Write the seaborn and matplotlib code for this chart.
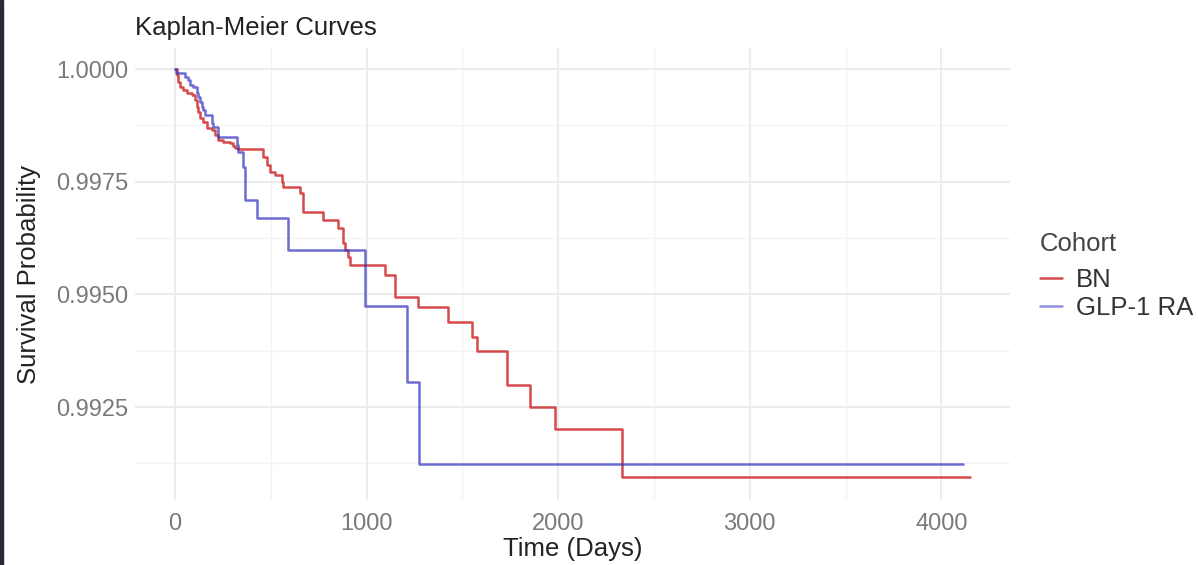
import numpy as np
import pandas as pd
import matplotlib
matplotlib.use("Agg")
import matplotlib.pyplot as plt
from matplotlib.patches import Rectangle
from matplotlib.colors import to_hex
import seaborn as sns

# --- data (step points: time of drop, survival after drop)
bn_time = [0, 10, 16, 26, 42, 63, 89, 104, 115, 120, 130, 146, 167, 193, 209,
           224, 251, 287, 303, 313, 329, 459, 480, 496, 522, 558, 564, 650, 668,
           772, 851, 877, 887, 903, 913, 1096, 1148, 1268, 1425, 1550, 1576,
           1733, 1853, 1983, 2333, 4149]
bn_surv = [1.0, 0.99987, 0.99971, 0.99960, 0.99953, 0.99947, 0.99942, 0.99931,
           0.99916, 0.99905, 0.99891, 0.99882, 0.99869, 0.99865, 0.99854,
           0.99843, 0.99838, 0.99836, 0.99829, 0.99825, 0.99823, 0.99805,
           0.99787, 0.99772, 0.99765, 0.99749, 0.99738, 0.99725, 0.99683,
           0.99665, 0.99647, 0.99614, 0.99598, 0.99583, 0.99565, 0.99543,
           0.99494, 0.99472, 0.99439, 0.99405, 0.99374, 0.99299, 0.99250,
           0.99201, 0.99095, 0.99095]

glp_time = [0, 5, 52, 68, 78, 94, 115, 120, 130, 141, 146, 157, 193, 198, 224,
            324, 330, 355, 365, 428, 590, 992, 1211, 1273, 4113]
glp_surv = [1.0, 0.99991, 0.99982, 0.99976, 0.99965, 0.99960, 0.99947, 0.99938,
            0.99927, 0.99916, 0.99909, 0.99898, 0.99880, 0.99871, 0.99849,
            0.99831, 0.99816, 0.99783, 0.99709, 0.99669, 0.99598, 0.99474,
            0.99306, 0.99124, 0.99124]

cohorts = ["BN", "GLP-1 RA"]
x_ticks = [0, 1000, 2000, 3000, 4000]
y_ticks = [0.9925, 0.9950, 0.9975, 1.0000]

df = pd.concat([
    pd.DataFrame({"time": bn_time, "surv": bn_surv, "Cohort": cohorts[0]}),
    pd.DataFrame({"time": glp_time, "surv": glp_surv, "Cohort": cohorts[1]}),
])

sns.set_theme(style="white")
plt.rcParams["font.family"] = ["Liberation Sans", "DejaVu Sans"]

fig = plt.figure(figsize=(11.98, 5.65), dpi=100)
ax = fig.add_axes([135 / 1198, 1 - 500 / 565, 875 / 1198, 452 / 565])

# grid like ggplot theme_minimal
for v in [500, 1500, 2500, 3500]:
    ax.axvline(v, color="#F3F3F3", lw=1.0, zorder=0)
for v in [0.99125, 0.99375, 0.99625, 0.99875]:
    ax.axhline(v, color="#F3F3F3", lw=1.0, zorder=0)
for v in x_ticks:
    ax.axvline(v, color="#ECECEC", lw=1.5, zorder=0)
for v in y_ticks:
    ax.axhline(v, color="#ECECEC", lw=1.5, zorder=0)

red, blue = "#D03232", "#3434C0"
palette = {"BN": red, "GLP-1 RA": blue}
sns.lineplot(data=df, x="time", y="surv", hue="Cohort", palette=palette,
             drawstyle="steps-post", estimator=None, lw=1.8, ax=ax)
for ln in ax.lines:
    c = to_hex(ln.get_color()).lower()
    if c == blue.lower():
        ln.set_alpha(0.72)
    elif c == red.lower():
        ln.set_alpha(0.88)

ax.set_xlim(-209, 4358)
ax.set_ylim(0.990437, 1.000466)
ax.set_xticks(x_ticks)
ax.set_xticklabels([str(v) for v in x_ticks])
ax.set_yticks(y_ticks)
ax.set_yticklabels([f"{v:.4f}" for v in y_ticks])
ax.tick_params(axis="both", length=0, labelsize=17, labelcolor="#7A7A7A")
ax.tick_params(axis="x", pad=9)
ax.tick_params(axis="y", pad=5)
for s in ax.spines.values():
    s.set_visible(False)

ax.set_xlabel("Time (Days)", fontsize=18.5, color="#222222")
ax.set_ylabel("Survival Probability", fontsize=18.5, color="#222222")
ax.xaxis.set_label_coords(0.5, -0.082)
ax.yaxis.set_label_coords(-0.107, 0.5)
ax.set_title("Kaplan-Meier Curves", loc="left", fontsize=18.5,
             color="#222222", pad=9)

sns.move_legend(ax, loc="upper left", bbox_to_anchor=(1027 / 1198, 1 - 219 / 565),
                bbox_transform=fig.transFigure, frameon=False, title="Cohort",
                fontsize=18.5, title_fontsize=18.5, handlelength=0.85,
                handletextpad=0.55, labelspacing=0.15, borderpad=0,
                alignment="left")
leg = ax.get_legend()
leg._legend_box.sep = 9
for t in leg.get_texts():
    t.set_color("#333333")
leg.get_title().set_color("#444444")
leg.legend_handles[0].set_alpha(0.88)
leg.legend_handles[1].set_alpha(0.55)

# dark strip on the left edge of the screenshot
fig.patches.append(Rectangle((0, 0), 3 / 1198, 1, transform=fig.transFigure,
                             color="#262B36", zorder=10))

fig.savefig("out.png", dpi=100)
